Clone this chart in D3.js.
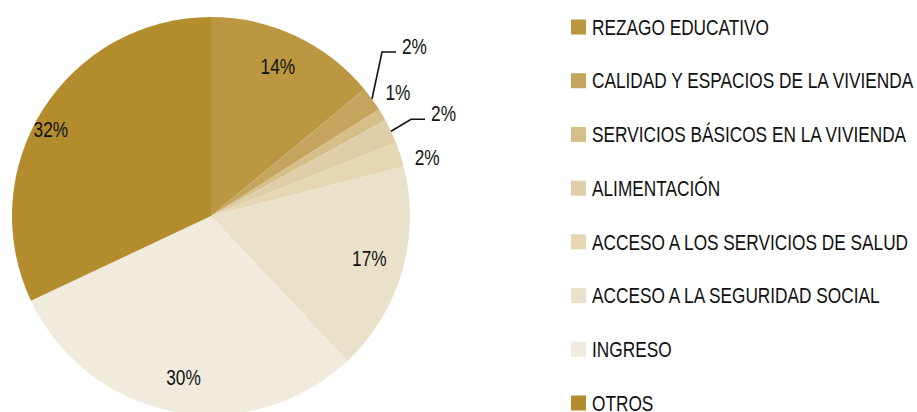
<!DOCTYPE html>
<html lang="es">
<head>
<meta charset="UTF-8">
<title>Carencias</title>
<style>
    body { margin: 0; background: #fff; }
    text { font-family: "Liberation Sans", Arial, sans-serif; fill: #111; }
</style>
</head>
<body>
<script src="https://cdn.jsdelivr.net/npm/d3@7"></script>
<script type="text/javascript">
    var categories = ["REZAGO EDUCATIVO", "CALIDAD Y ESPACIOS DE LA VIVIENDA", "SERVICIOS BÁSICOS EN LA VIVIENDA",
        "ALIMENTACIÓN", "ACCESO A LOS SERVICIOS DE SALUD", "ACCESO A LA SEGURIDAD SOCIAL", "INGRESO", "OTROS"];
    var values = [14, 2, 1, 2, 2, 17, 30, 32];
    var colors = ["#bc9741", "#c5a55d", "#d5be88", "#dfcea7", "#e5d7b4", "#e9e1c9", "#f1ebdd", "#b38c2e"];

    var w = 917, h = 412;
    var cx = 211, cy = 216, r = 199;
    var fs = "22px";

    var svg = d3.select("body").append("svg").attr("width", w).attr("height", h);

    var pie = d3.pie().sort(null).value(function (d) { return d; });
    var arcs = pie(values);
    var arc = d3.arc().innerRadius(0).outerRadius(r);

    var g = svg.append("g").attr("transform", "translate(" + cx + "," + cy + ")");

    g.selectAll("path").data(arcs).enter().append("path")
        .attr("d", arc)
        .attr("fill", function (d, i) { return colors[i]; });

    function pt(angle, rad) {
        return [Math.sin(angle) * rad, -Math.cos(angle) * rad];
    }
    function mid(d) { return (d.startAngle + d.endAngle) / 2; }

    // condensed look: squeeze normal text horizontally
    var sx = 0.8;
    function label(parent, x, y, txt, anchor) {
        return parent.append("text")
            .attr("transform", "translate(" + x + "," + y + ") scale(" + sx + ",1)")
            .attr("text-anchor", anchor || "start")
            .attr("dy", "0.35em").attr("font-size", fs)
            .text(txt);
    }

    // big slices: label inside
    arcs.filter(function (d) { return d.value >= 5; }).forEach(function (d) {
        var rr = d.value > 31 ? 182 : 164;
        var a = mid(d) - (d.value > 31 ? 0.07 : 0.02);
        var p = pt(a, rr);
        label(g, p[0], p[1], d.value + "%", "middle");
    });

    // small slices: label outside, every other one with a leader line
    var small = arcs.filter(function (d) { return d.value < 5; });
    small.forEach(function (d, k) {
        var e = pt(mid(d), r);
        if (k % 2 === 0) {
            var elbow = k === 0 ? [e[0] + 10, e[1] - 47] : [e[0] + 20, e[1] - 12];
            var end = [elbow[0] + 14, elbow[1]];
            g.append("polyline")
                .attr("points", [e, elbow, end].map(function (p) { return p.join(","); }).join(" "))
                .attr("fill", "none").attr("stroke", "#111").attr("stroke-width", 1.6);
            label(g, end[0] + 6, end[1] - 6, d.value + "%");
        } else {
            var p = pt(mid(d) + (k === 1 ? -0.05 : 0.05), r + 25);
            label(g, p[0], p[1], d.value + "%", "middle");
        }
    });

    // legend
    var legY = d3.scalePoint().domain(d3.range(categories.length)).range([27, 403]);
    var leg = svg.selectAll("g.leg").data(categories).enter().append("g")
        .attr("class", "leg")
        .attr("transform", function (d, i) { return "translate(571," + legY(i) + ")"; });
    leg.append("rect").attr("x", 0).attr("y", -7.5).attr("width", 15).attr("height", 15)
        .attr("fill", function (d, i) { return colors[i]; });
    leg.each(function (d) { label(d3.select(this), 21, 0, d); });

    // fit longest legend entry to its width in the reference
    var longest = svg.selectAll("g.leg text").filter(function (d, i) { return i === 1; }).node();
    var natural = longest.getComputedTextLength();
    sx = 321 / natural;
    svg.selectAll("text").attr("transform", function () {
        var t = this.getAttribute("transform");
        return t.replace(/scale\([^)]*\)/, "scale(" + sx + ",1)");
    });
</script>
</body>
</html>
